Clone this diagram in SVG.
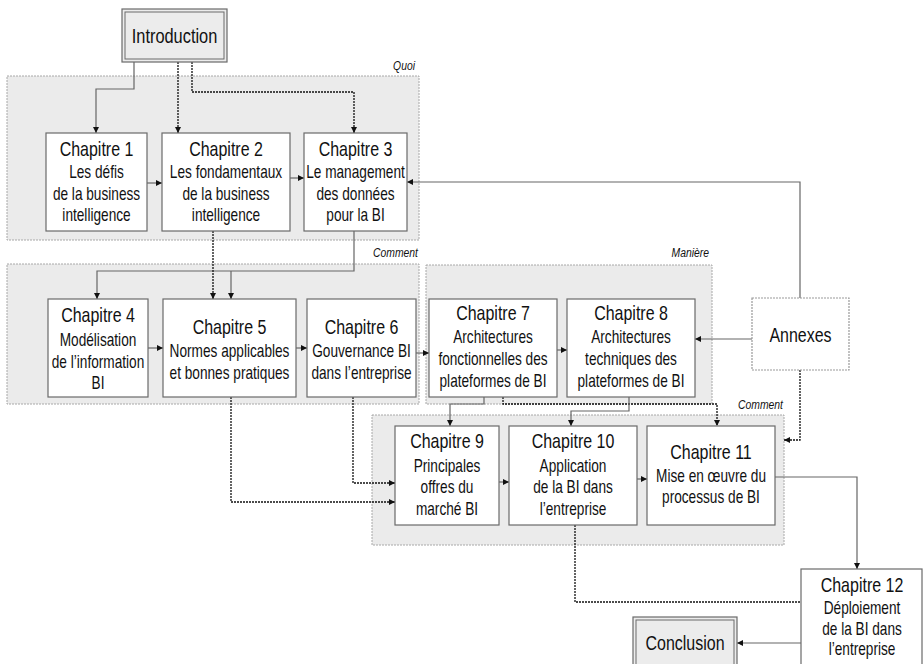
<svg xmlns="http://www.w3.org/2000/svg" width="924" height="664" viewBox="0 0 924 664">
<defs>
<style>
.bg{fill:#ffffff}
.grp{fill:#ebebeb;stroke:#a8a8a8;stroke-width:1;stroke-dasharray:2 1}
.glbl{font-family:"Liberation Sans",Arial,sans-serif;font-style:italic;font-size:13.3px;fill:#111;text-anchor:end}
.box{fill:#ffffff;stroke:#6a6a6a;stroke-width:1.2}
.dbox{fill:#ffffff;stroke:#999;stroke-width:1.2;stroke-dasharray:2 1}
.gbox{fill:#ececec;stroke:#6a6a6a;stroke-width:1.2}
.t{font-family:"Liberation Sans",Arial,sans-serif;fill:#111;text-anchor:middle}
.h{font-size:20.5px}
.s{font-size:17.5px}
.solid{fill:none;stroke:#666;stroke-width:1.2}
.dot{fill:none;stroke:#111;stroke-width:1.3;stroke-dasharray:2 1}
</style>
<marker id="ar" viewBox="0 0 6 6" refX="6" refY="3" markerWidth="6" markerHeight="6" markerUnits="userSpaceOnUse" orient="auto">
<path d="M0,0 L6,3 L0,6 Z" fill="#111"/>
</marker>
</defs>
<rect class="bg" x="0" y="0" width="924" height="664"/>

<g id="regions">
<rect class="grp" x="7" y="76" width="412" height="164"/>
<rect class="grp" x="7" y="264" width="412" height="140"/>
<rect class="grp" x="426" y="265" width="286" height="139"/>
<rect class="grp" x="372" y="415" width="412" height="130"/>
<g transform="translate(415 0) scale(0.78 1)"><text class="glbl" x="0" y="70">Quoi</text></g>
<g transform="translate(418 0) scale(0.78 1)"><text class="glbl" x="0" y="257">Comment</text></g>
<g transform="translate(709 0) scale(0.78 1)"><text class="glbl" x="0" y="257">Manière</text></g>
<g transform="translate(783 0) scale(0.78 1)"><text class="glbl" x="0" y="409">Comment</text></g>
</g>

<g id="connectors">
<path class="solid" d="M134,62 V89 H96 V133" marker-end="url(#ar)"/>
<path class="dot" d="M178,62 V133" marker-end="url(#ar)"/>
<path class="dot" d="M192,62 V92 H354 V133" marker-end="url(#ar)"/>
<path class="solid" d="M147,183 H162" marker-end="url(#ar)"/>
<path class="solid" d="M290,178 H304" marker-end="url(#ar)"/>
<path class="solid" d="M800,298 V182 H407" marker-end="url(#ar)"/>
<path class="solid" d="M354,231 V271 H97 V299" marker-end="url(#ar)"/>
<path class="solid" d="M231,271 V299" marker-end="url(#ar)"/>
<path class="dot" d="M213,231 V299" marker-end="url(#ar)"/>
<path class="solid" d="M148,348 H163" marker-end="url(#ar)"/>
<path class="solid" d="M296,348 H307" marker-end="url(#ar)"/>
<path class="solid" d="M416,353 H429" marker-end="url(#ar)"/>
<path class="solid" d="M557,350 H567" marker-end="url(#ar)"/>
<path class="solid" d="M752,339 H695" marker-end="url(#ar)"/>
<path class="solid" d="M484,397 V404 H450 V426" marker-end="url(#ar)"/>
<path class="dot" d="M503,397 V404 H717 V426" marker-end="url(#ar)"/>
<path class="solid" d="M629,397 V411 H571 V426" marker-end="url(#ar)"/>
<path class="dot" d="M800,370 V440 H784" marker-end="url(#ar)"/>
<path class="dot" d="M353,397 V483 H395" marker-end="url(#ar)"/>
<path class="dot" d="M231,397 V502 H395" marker-end="url(#ar)"/>
<path class="solid" d="M499,482 H509" marker-end="url(#ar)"/>
<path class="solid" d="M637,479 H647" marker-end="url(#ar)"/>
<path class="solid" d="M775,477 H857 V569" marker-end="url(#ar)"/>
<path class="dot" d="M575,525 V602 H801"/>
<path class="solid" d="M801,643 H737" marker-end="url(#ar)"/>
</g>

<g id="introduction">
<rect class="gbox" x="122" y="9" width="105" height="53"/>
<rect fill="none" stroke="#6a6a6a" stroke-width="1" x="125" y="12" width="99" height="47"/>
<g transform="translate(174.5 0) scale(0.78 1)"><text class="t" font-size="21" x="0" y="43">Introduction</text></g>
</g>

<g id="ch1">
<rect class="box" x="46" y="133" width="101" height="98"/>
<g transform="translate(96.5 0) scale(0.78 1)">
<text class="t h" x="0" y="156">Chapitre 1</text>
<text class="t s" x="0" y="178">Les défis</text>
<text class="t s" x="0" y="200">de la business</text>
<text class="t s" x="0" y="221">intelligence</text>
</g>
</g>

<g id="ch2">
<rect class="box" x="162" y="133" width="128" height="98"/>
<g transform="translate(226 0) scale(0.78 1)">
<text class="t h" x="0" y="156">Chapitre 2</text>
<text class="t s" x="0" y="178">Les fondamentaux</text>
<text class="t s" x="0" y="200">de la business</text>
<text class="t s" x="0" y="221">intelligence</text>
</g>
</g>

<g id="ch3">
<rect class="box" x="304" y="133" width="103" height="98"/>
<g transform="translate(355.5 0) scale(0.78 1)">
<text class="t h" x="0" y="156">Chapitre 3</text>
<text class="t s" x="0" y="178">Le management</text>
<text class="t s" x="0" y="200">des données</text>
<text class="t s" x="0" y="221">pour la BI</text>
</g>
</g>

<g id="ch4">
<rect class="box" x="48" y="299" width="100" height="98"/>
<g transform="translate(98 0) scale(0.78 1)">
<text class="t h" x="0" y="322">Chapitre 4</text>
<text class="t s" x="0" y="346">Modélisation</text>
<text class="t s" x="0" y="368">de l’information</text>
<text class="t s" x="0" y="389">BI</text>
</g>
</g>

<g id="ch5">
<rect class="box" x="163" y="299" width="133" height="98"/>
<g transform="translate(229.5 0) scale(0.78 1)">
<text class="t h" x="0" y="334">Chapitre 5</text>
<text class="t s" x="0" y="357">Normes applicables</text>
<text class="t s" x="0" y="379">et bonnes pratiques</text>
</g>
</g>

<g id="ch6">
<rect class="box" x="307" y="299" width="109" height="98"/>
<g transform="translate(361.5 0) scale(0.78 1)">
<text class="t h" x="0" y="334">Chapitre 6</text>
<text class="t s" x="0" y="357">Gouvernance BI</text>
<text class="t s" x="0" y="379">dans l’entreprise</text>
</g>
</g>

<g id="ch7">
<rect class="box" x="429" y="299" width="128" height="98"/>
<g transform="translate(493 0) scale(0.78 1)">
<text class="t h" x="0" y="320">Chapitre 7</text>
<text class="t s" x="0" y="343">Architectures</text>
<text class="t s" x="0" y="365">fonctionnelles des</text>
<text class="t s" x="0" y="387">plateformes de BI</text>
</g>
</g>

<g id="ch8">
<rect class="box" x="567" y="299" width="128" height="98"/>
<g transform="translate(631 0) scale(0.78 1)">
<text class="t h" x="0" y="320">Chapitre 8</text>
<text class="t s" x="0" y="343">Architectures</text>
<text class="t s" x="0" y="365">techniques des</text>
<text class="t s" x="0" y="387">plateformes de BI</text>
</g>
</g>

<g id="annexes">
<rect class="dbox" x="752" y="298" width="97" height="72"/>
<g transform="translate(800.5 0) scale(0.78 1)"><text class="t h" x="0" y="342">Annexes</text></g>
</g>

<g id="ch9">
<rect class="box" x="395" y="426" width="104" height="99"/>
<g transform="translate(447 0) scale(0.78 1)">
<text class="t h" x="0" y="448">Chapitre 9</text>
<text class="t s" x="0" y="472">Principales</text>
<text class="t s" x="0" y="493">offres du</text>
<text class="t s" x="0" y="515">marché BI</text>
</g>
</g>

<g id="ch10">
<rect class="box" x="509" y="426" width="128" height="99"/>
<g transform="translate(573 0) scale(0.78 1)">
<text class="t h" x="0" y="448">Chapitre 10</text>
<text class="t s" x="0" y="472">Application</text>
<text class="t s" x="0" y="493">de la BI dans</text>
<text class="t s" x="0" y="515">l’entreprise</text>
</g>
</g>

<g id="ch11">
<rect class="box" x="647" y="426" width="128" height="99"/>
<g transform="translate(711 0) scale(0.78 1)">
<text class="t h" x="0" y="459">Chapitre 11</text>
<text class="t s" x="0" y="482">Mise en œuvre du</text>
<text class="t s" x="0" y="503">processus de BI</text>
</g>
</g>

<g id="ch12">
<rect class="box" x="801" y="569" width="121" height="101"/>
<g transform="translate(862 0) scale(0.78 1)">
<text class="t h" x="0" y="592">Chapitre 12</text>
<text class="t s" x="0" y="614">Déploiement</text>
<text class="t s" x="0" y="635">de la BI dans</text>
<text class="t s" x="0" y="655">l’entreprise</text>
</g>
</g>

<g id="conclusion">
<rect class="gbox" x="633" y="617" width="104" height="53"/>
<rect fill="none" stroke="#6a6a6a" stroke-width="1" x="636" y="620" width="98" height="47"/>
<g transform="translate(685 0) scale(0.78 1)"><text class="t h" x="0" y="650">Conclusion</text></g>
</g>
</svg>
